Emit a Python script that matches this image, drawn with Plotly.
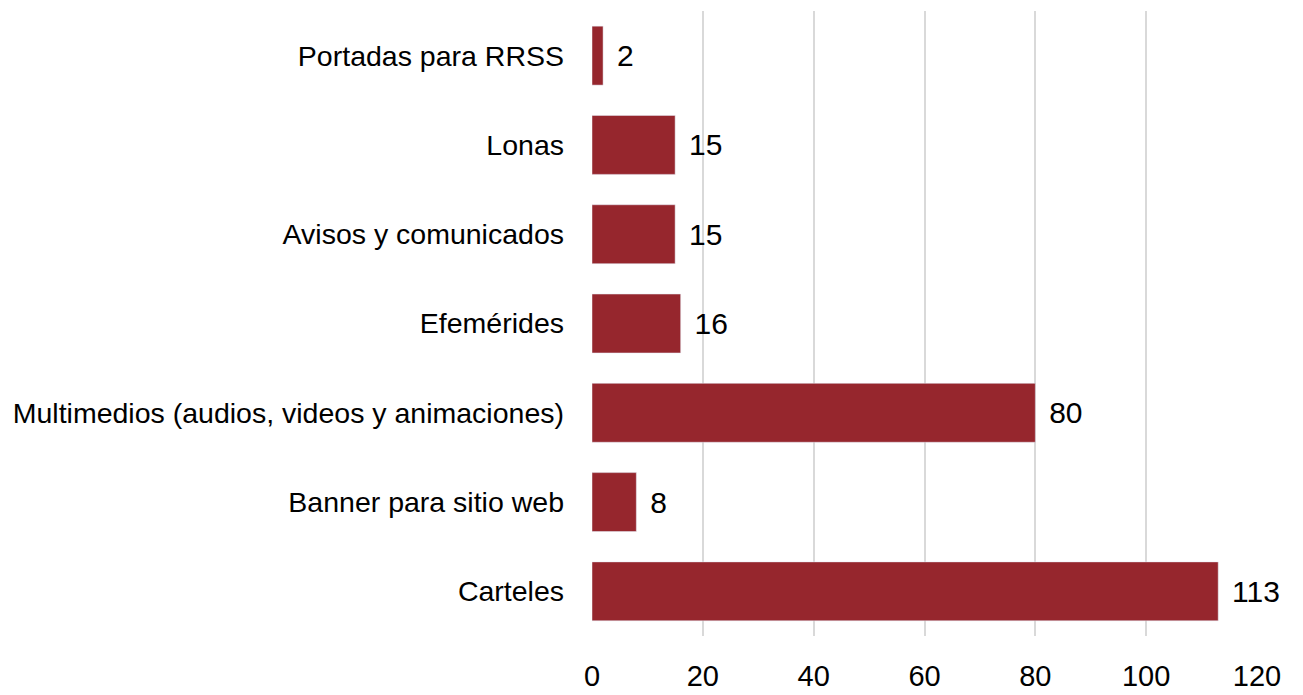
import plotly.graph_objects as go

categorias = [
    "Carteles",
    "Banner para sitio web",
    "Multimedios (audios, videos y animaciones)",
    "Efemérides",
    "Avisos y comunicados",
    "Lonas",
    "Portadas para RRSS",
]
valores = [113, 8, 80, 16, 15, 15, 2]
ticks_x = [0, 20, 40, 60, 80, 100, 120]

fig = go.Figure(go.Bar(
    x=valores,
    y=categorias,
    orientation="h",
    marker_color="#96262D",
    text=valores,
    texttemplate=" \u200a%{x}",
    textposition="outside",
    textfont=dict(size=30, color="#000000"),
    cliponaxis=False,
))

# the page body has an 8px margin, so the figure is drawn a bit smaller
fig.update_layout(
    width=1295, height=687,
    margin=dict(l=584, r=46, t=3, b=53),
    paper_bgcolor="white", plot_bgcolor="white",
    font=dict(family="Liberation Sans, Arial, sans-serif", color="#000000"),
    bargap=0.34,
    showlegend=False,
)
fig.update_xaxes(
    range=[0, 120], tickvals=ticks_x, showgrid=True,
    gridcolor="#D9D9D9", gridwidth=1.5, zeroline=False,
    showline=False, tickfont=dict(size=29), ticklabelstandoff=20,
)
fig.update_yaxes(
    categoryorder="array", categoryarray=categorias,
    showgrid=False, showline=False, tickfont=dict(size=28.5),
    ticklabelstandoff=27,
)

fig.write_html("out.html")
